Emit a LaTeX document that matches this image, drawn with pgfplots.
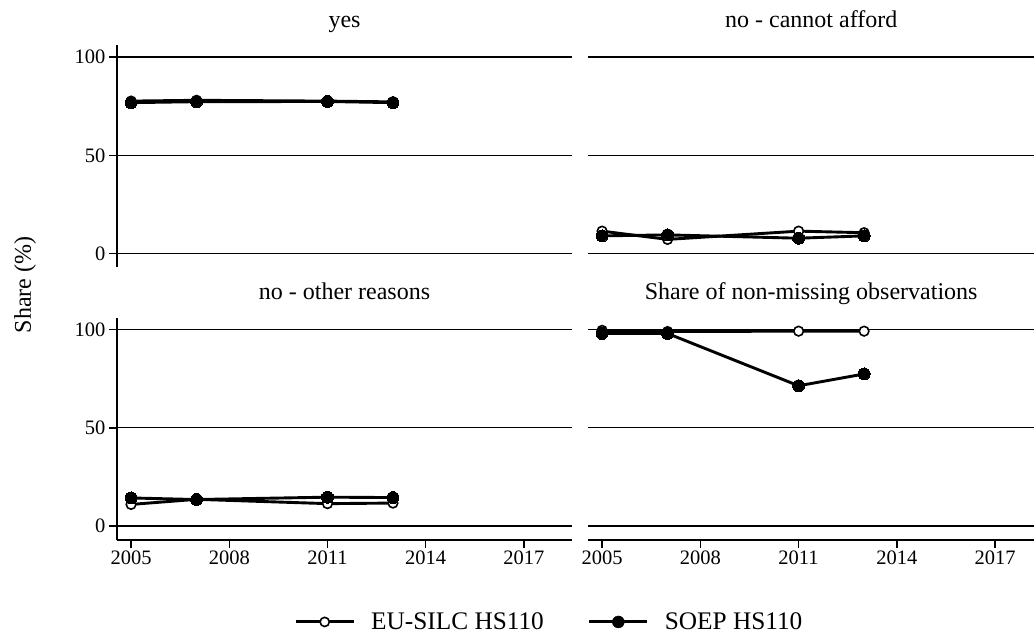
\documentclass[border=0pt]{standalone}
\usepackage{fontspec}
\setmainfont{Liberation Serif}
\usepackage{pgfplots}
\usepackage{pgfplotstable}
\pgfplotsset{compat=1.18}

\pgfplotstableread{
year eu soep
2005 77.6 76.8
2007 78.0 77.3
2011 77.6 77.4
2013 77.2 76.8
}\tyes
\pgfplotstableread{
year eu soep
2005 11.4 9.0
2007 7.2 9.5
2011 11.4 7.8
2013 10.6 9.0
}\tafford
\pgfplotstableread{
year eu soep
2005 11.0 14.3
2007 13.6 13.5
2011 11.4 14.7
2013 11.7 14.5
}\tother
\pgfplotstableread{
year eu soep
2005 99.6 98.0
2007 99.0 98.0
2011 99.2 71.4
2013 99.2 77.4
}\tshare

\pgfplotsset{
  panel/.style={
    scale only axis, height=222pt,
    xmin=2004.57, ymin=-7, ymax=106,
    ytick={0,50,100}, ymajorgrids,
    grid style={black, line width=1.2pt},
    axis line style={black, line width=1.6pt},
    tick style={black, line width=1.4pt},
    tick align=outside, major tick length=8pt,
    /pgf/number format/assume math mode=true,
    /pgf/number format/set thousands separator={},
    ticklabel style={font=\fontsize{20.5}{24}\selectfont},
    title style={font=\fontsize{24}{28}\selectfont, at={(0.5,1)}, anchor=base, yshift=12pt, inner sep=0pt},
    axis y line*=left, axis x line*=bottom,
    clip=false,
  },
  leftp/.style={panel, width=455pt, xmax=2018.47},
  rightp/.style={panel, width=446.4pt, xmax=2018.2,
    y axis line style={draw=none}, ytick style={draw=none}, yticklabels={}},
  topp/.style={x axis line style={draw=none}, xtick=\empty},
  botp/.style={xtick={2005,2008,2011,2014,2017}},
  eustyle/.style={black, line width=2.9pt, mark=*, mark size=4.8pt, mark options={solid, fill=white, draw=black, line width=1.6pt}},
  soepstyle/.style={black, line width=2.9pt, mark=*, mark size=6pt, mark options={solid, fill=black, draw=black, line width=0pt}},
}

\begin{document}
\begin{tikzpicture}
\useasboundingbox (0,0) rectangle (1035pt,634pt);
% top-left
\begin{axis}[leftp, topp, at={(117pt,366.7pt)}, title={yes}]
\addplot[eustyle] table[x=year,y=eu] {\tyes};
\addplot[soepstyle] table[x=year,y=soep] {\tyes};
\end{axis}
% top-right
\begin{axis}[rightp, topp, at={(588pt,366.7pt)}, title={no - cannot afford}]
\addplot[eustyle] table[x=year,y=eu] {\tafford};
\addplot[soepstyle] table[x=year,y=soep] {\tafford};
\end{axis}
% bottom-left
\begin{axis}[leftp, botp, at={(117pt,94.2pt)}, title={no - other reasons},
  legend columns=2,
  legend style={draw=none, fill=none, inner sep=0pt,
    font=\fontsize{25.3}{29}\selectfont,
    at={(axis description cs:0.389,-0.37)}, anchor=west,
    /tikz/every even column/.append style={column sep=42pt},
    /tikz/every odd column/.append style={column sep=14pt}},
]
\addplot[eustyle, forget plot] table[x=year,y=eu] {\tother};
\addplot[soepstyle, forget plot] table[x=year,y=soep] {\tother};
\addlegendimage{legend image code/.code={%
  \draw[black, line width=3pt] (0pt,0pt) -- (58pt,0pt);
  \fill[white] (29pt,0pt) circle (4.6pt);
  \draw[black, line width=1.6pt] (29pt,0pt) circle (4.6pt);}}
\addlegendentry{EU-SILC HS110}
\addlegendimage{legend image code/.code={%
  \draw[black, line width=3pt] (0pt,0pt) -- (58pt,0pt);
  \fill[black] (29pt,0pt) circle (6pt);}}
\addlegendentry{SOEP HS110}
\end{axis}
% bottom-right
\begin{axis}[rightp, botp, at={(588pt,94.2pt)}, title={Share of non-missing observations}]
\addplot[eustyle] table[x=year,y=eu] {\tshare};
\addplot[soepstyle] table[x=year,y=soep] {\tshare};
\end{axis}
\node[rotate=90, font=\fontsize{24}{28}\selectfont] at (25pt,349pt) {Share (\%)};
\end{tikzpicture}
\end{document}
